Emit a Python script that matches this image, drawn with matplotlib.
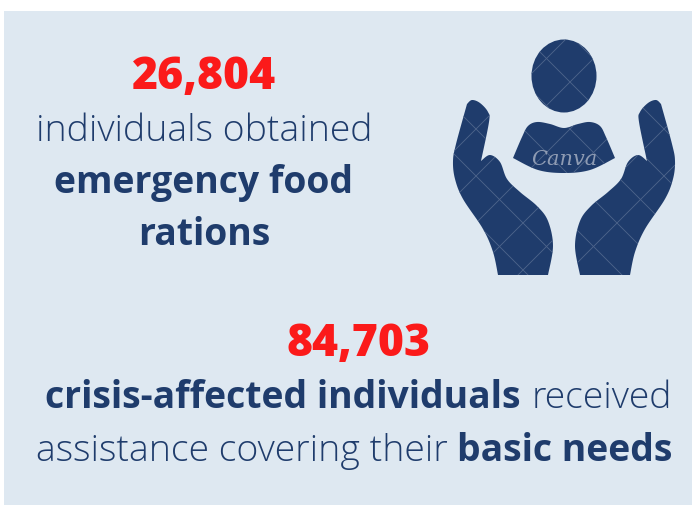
import matplotlib
matplotlib.use("Agg")
import matplotlib.pyplot as plt
from matplotlib.patches import Rectangle, Ellipse, PathPatch
from matplotlib.path import Path
import numpy as np

# text content
stat_top = "26,804"
stat_bottom = "84,703"
line_top_1 = "individuals obtained"
line_top_2 = "emergency food"
line_top_3 = "rations"
line_bot_bold = "crisis-affected individuals"
line_bot_light = "received"
line_bot2_light = "assistance covering their"
line_bot2_bold = "basic needs"
watermark = "Canva"

navy = "#1f3c6c"
red = "#fb1a1a"
panel = "#dee8f1"
body_size = 26.9

# icon outlines in pixels, each list is one smooth run between sharp corners
hand_outer = [(467, 105), (456, 145), (453, 162), (455, 180), (463, 200), (483, 230), (493, 253), (498, 276)]
hand_inner = [(548, 276), (553, 247), (548, 222), (537, 207), (520, 193), (507, 180), (500, 163), (490, 156), (481, 162)]
hand_tip = [(481, 162), (489, 123), (488, 113), (480, 104), (472, 101), (467, 105)]
torso_top = [(513, 159), (522, 138), (528, 127), (537, 123), (550, 125), (564, 129), (578, 125), (590, 123), (600, 127), (606, 138), (615, 159)]
torso_bottom = [(615, 159), (590, 171), (564, 174), (538, 171), (513, 159)]


def smooth(points, n=12):
    # catmull-rom through the given points
    p = np.array([points[0]] + points + [points[-1]], dtype=float)
    out = []
    for i in range(1, len(p) - 2):
        for t in np.linspace(0, 1, n, endpoint=False):
            out.append(0.5 * (2 * p[i] + (p[i + 1] - p[i - 1]) * t
                              + (2 * p[i - 1] - 5 * p[i] + 4 * p[i + 1] - p[i + 2]) * t ** 2
                              + (3 * p[i] - p[i - 1] - 3 * p[i + 1] + p[i + 2]) * t ** 3))
    out.append(p[-2])
    return out


def outline(runs, mirror=False):
    pts = []
    for run in runs:
        pts.extend(smooth(run))
    pts = np.array(pts)
    if mirror:
        pts[:, 0] = 1128 - pts[:, 0]
    return Path(np.vstack([pts, pts[:1]]), closed=True)


fig = plt.figure(figsize=(6.92, 5.06), dpi=100)
ax = fig.add_axes([0, 0, 1, 1])
ax.set_xlim(0, 692)
ax.set_ylim(506, 0)
ax.axis("off")

ax.add_patch(Rectangle((4, 12), 688, 494, color=panel, lw=0))

# numbers
num = dict(color=red, fontsize=32, fontweight=800, family="Open Sans", va="baseline", ha="center")
ax.text(204, 89, stat_top, **num)
ax.text(359, 356, stat_bottom, **num)

# top block
light = dict(color=navy, fontsize=body_size, fontweight="light", family="Open Sans", va="baseline")
bold = dict(color=navy, fontsize=body_size, fontweight="bold", family="Open Sans", va="baseline")
ax.text(204, 141, line_top_1, ha="center", **light)
ax.text(204, 193, line_top_2, ha="center", **bold)
ax.text(204, 245, line_top_3, ha="center", **bold)

# bottom block
ax.text(45, 408, line_bot_bold, ha="left", **bold)
ax.text(672, 408, line_bot_light, ha="right", **light)
ax.text(36, 461, line_bot2_light, ha="left", **light)
ax.text(672, 461, line_bot2_bold, ha="right", **bold)

# icon
shapes = [
    Ellipse((564, 77), 65, 73, color=navy, lw=0),
    PathPatch(outline([torso_top, torso_bottom]), color=navy, lw=0),
    PathPatch(outline([hand_outer, hand_inner, hand_tip]), color=navy, lw=0),
    PathPatch(outline([hand_outer, hand_inner, hand_tip], mirror=True), color=navy, lw=0),
]
for shape in shapes:
    ax.add_patch(shape)

# watermark lattice, only visible on the icon
step = 47
for shape in shapes:
    for k in range(-8, 9):
        line, = ax.plot([400, 700], [242 + k * step, 542 + k * step], color="#4f658c", lw=0.6, zorder=3)
        line.set_clip_path(shape)
        line, = ax.plot([400, 700], [65 + k * step, -235 + k * step], color="#4f658c", lw=0.6, zorder=3)
        line.set_clip_path(shape)

ax.text(564, 165, watermark, color="#8e9bb3", fontsize=15, style="italic", family="DejaVu Serif",
        ha="center", va="baseline", zorder=4)

fig.savefig("out.png", dpi=100)
